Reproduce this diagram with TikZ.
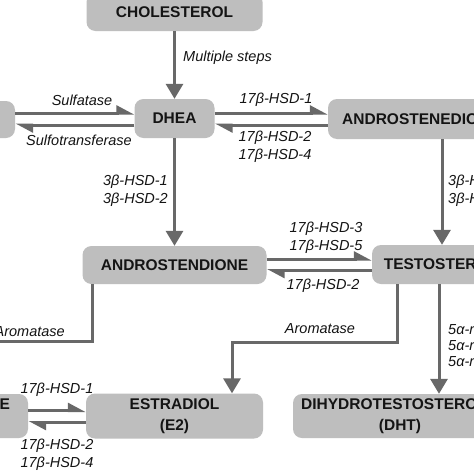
\documentclass[tikz,border=0pt]{standalone}
\usepackage{fontspec}
\setmainfont{Liberation Sans}
\usetikzlibrary{arrows.meta}
\definecolor{boxgray}{RGB}{190,190,190}
\definecolor{arrgray}{RGB}{104,104,104}
\definecolor{txt}{RGB}{20,20,20}
\begin{document}
\begin{tikzpicture}[x=1pt,y=-1pt,
  box/.style={fill=boxgray, rounded corners=9pt, inner sep=0pt, font=\fontsize{15.5}{21}\selectfont\bfseries, text=txt, align=center},
  lab/.style={font=\fontsize{14.5}{18}\selectfont\itshape, text=txt, inner sep=0pt, align=center},
  conn/.style={draw=arrgray, line width=3pt},
  bigtip/.style={conn, -{Triangle[length=15pt,width=17pt]}},
  harp/.style={conn, -{Triangle[harpoon,length=15pt,width=15pt]}}]
\path[use as bounding box, clip] (0,0) rectangle (474,474);
\fill[white] (0,0) rectangle (474,474);
% boxes
\node[box, minimum width=176pt, minimum height=38pt] (chol) at (174.5,12) {CHOLESTEROL};
\node[box, minimum width=80pt, minimum height=39pt] (dhea) at (174.5,118.5) {DHEA};
\node[box, minimum width=110pt, minimum height=37pt] (dheas) at (-40,119.5) {};
\node[box, minimum width=186pt, minimum height=40pt] (androR) at (421,119) {ANDROSTENEDIONE};
\node[box, minimum width=184pt, minimum height=38pt] (androA) at (174.5,265) {ANDROSTENDIONE};
\node[box, minimum width=150pt, minimum height=39pt] (testo) at (447,264.5) {TESTOSTERONE};
\node[box, minimum width=177pt, minimum height=45pt] (estradiol) at (174.5,416) {ESTRADIOL\\(E2)};
\node[box, minimum width=111pt, minimum height=44pt] (estrone) at (-27.5,416) {ESTRONE\\(E1)};
\node[box, minimum width=214pt, minimum height=44pt] (dht) at (400,416) {DIHYDROTESTOSTERONE\\(DHT)};
% helper coordinates
\coordinate (d1) at ([yshift=5.5pt]dhea.west);
\coordinate (d2) at ([yshift=-6.5pt]dhea.west);
\coordinate (d3) at ([yshift=5.5pt]dhea.east);
\coordinate (d4) at ([yshift=-6.5pt]dhea.east);
\coordinate (r1) at ([xshift=21pt]androR.south);
\coordinate (a1) at ([yshift=6pt]androA.east);
\coordinate (a2) at ([yshift=-5.5pt]androA.east);
\coordinate (a3) at ([xshift=10pt]androA.south west);
\coordinate (arolev) at (0,341);
\coordinate (arolev2) at (0,342);
\coordinate (t1) at ([xshift=26pt]testo.south west);
\coordinate (t2) at ([xshift=-8pt]testo.south);
\coordinate (e1) at ([xshift=57.5pt]estradiol.north);
\coordinate (s1) at ([yshift=5.5pt]estradiol.west);
\coordinate (s2) at ([yshift=-6.5pt]estradiol.west);
% connectors
\draw[bigtip] (chol.south) -- (dhea.north);
\draw[harp] (d1 -| dheas.east) -- (d1);
\draw[harp] (d2) -- (d2 -| dheas.east);
\draw[harp] (d3) -- (d3 -| androR.west);
\draw[harp] (d4 -| androR.west) -- (d4);
\draw[bigtip] (dhea.south) -- (androA.north);
\draw[bigtip] (r1) -- (r1 |- testo.north);
\draw[harp] (a1) -- (a1 -| testo.west);
\draw[harp] (a2 -| testo.west) -- (a2);
\draw[bigtip] (a3) -- (a3 |- arolev) -| (estrone.north);
\draw[bigtip] (t1) -- (t1 |- arolev2) -| (e1);
\draw[bigtip] (t2) -- (t2 |- dht.north);
\draw[harp] (s1 -| estrone.east) -- (s1);
\draw[harp] (s2) -- (s2 -| estrone.east);
% labels
\node[lab, anchor=west] (l1) at (183,58) {Multiple steps};
\node[lab] (l2) at (82,100) {Sulfatase};
\node[lab] (l3) at (79,140) {Sulfotransferase};
\node[lab] (l4) at (276,100) {17β-HSD-1};
\node[lab] (l5) at (275,147) {17β-HSD-2\\17β-HSD-4};
\node[lab, anchor=east, align=right] (l6) at (168,191) {3β-HSD-1\\3β-HSD-2};
\node[lab, anchor=west, align=left] (l7) at (448,191) {3β-HSD-1\\3β-HSD-2};
\node[lab] (l8) at (326,238) {17β-HSD-3\\17β-HSD-5};
\node[lab] (l9) at (323,286) {17β-HSD-2};
\node[lab, anchor=east] (l10) at (65,332) {Aromatase};
\node[lab] (l11) at (320,329) {Aromatase};
\node[lab, anchor=west, align=left, font=\fontsize{14.5}{16}\selectfont\itshape] (l12) at (448,345) {5α-reductase-1\\5α-reductase-2\\5α-reductase-3};
\node[lab] (l13) at (57,390) {17β-HSD-1};
\node[lab] (l14) at (57,455) {17β-HSD-2\\17β-HSD-4};
\end{tikzpicture}
\end{document}
